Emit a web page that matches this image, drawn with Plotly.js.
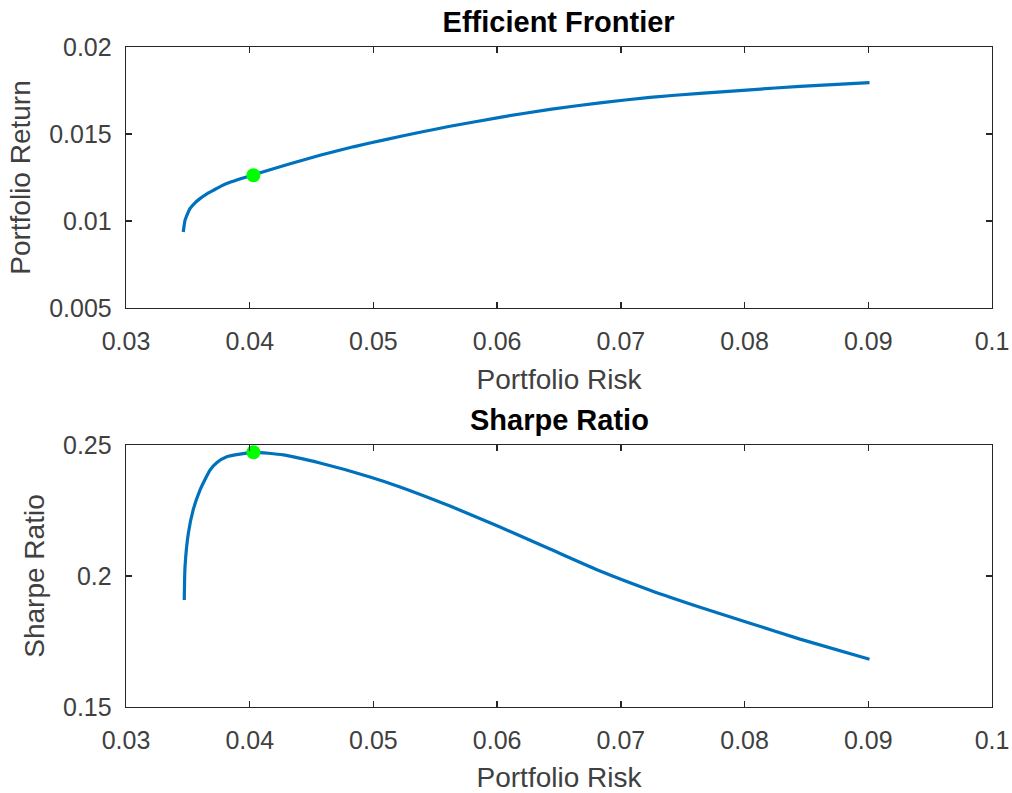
<!DOCTYPE html>
<html>
<head>
<meta charset="utf-8">
<script src="https://cdn.plot.ly/plotly-3.0.1.min.js"></script>
<style>
  html, body { margin: 0; padding: 0; background: #fff; }
  #chart { width: 1012px; height: 793px; }
</style>
</head>
<body>
<div id="chart"></div>
<script>
// ---- Data ----
const frontierRisk = [0.03463, 0.03469, 0.03477, 0.03497, 0.03517, 0.03558, 0.03598, 0.03651, 0.03706, 0.03772,
                      0.03841, 0.04029, 0.04299, 0.04568, 0.04837, 0.05107, 0.05377, 0.05619, 0.06023, 0.06427,
                      0.06832, 0.07236, 0.0764, 0.08044, 0.08448, 0.0901];
const frontierReturn = [0.009368, 0.009695, 0.010040, 0.010414, 0.010713, 0.011046, 0.011287, 0.011546, 0.011764, 0.012023,
                        0.012224, 0.012655, 0.013230, 0.013776, 0.014264, 0.014695, 0.015098, 0.015443, 0.015960, 0.016420,
                        0.016793, 0.017109, 0.017339, 0.017540, 0.017741, 0.017954];
const sharpeRisk = [0.03471, 0.03477, 0.03504, 0.03544, 0.03598, 0.03679, 0.03733, 0.03814, 0.04035, 0.04272,
                    0.04568, 0.04972, 0.05215, 0.05619, 0.06023, 0.06427, 0.06832, 0.07236, 0.0764, 0.08044,
                    0.08448, 0.0901];
const sharpeRatio = [0.1908, 0.2035, 0.2163, 0.2254, 0.2328, 0.2404, 0.2432, 0.2455, 0.2472, 0.2462,
                     0.2431, 0.2378, 0.2340, 0.2267, 0.2187, 0.2103, 0.2019, 0.1946, 0.1881, 0.1820,
                     0.1759, 0.1682];
const optimalRisk = [0.0403];
const optimalReturn = [0.01263];
const optimalSharpe = [0.2472];

const xTickVals = [0.03, 0.04, 0.05, 0.06, 0.07, 0.08, 0.09, 0.1];
const xTickText = ['0.03', '0.04', '0.05', '0.06', '0.07', '0.08', '0.09', '0.1'];
const y1TickVals = [0.005, 0.01, 0.015, 0.02];
const y1TickText = ['0.005', '0.01', '0.015', '0.02'];
const y2TickVals = [0.15, 0.2, 0.25];
const y2TickText = ['0.15', '0.2', '0.25'];

const titles = { top: 'Efficient Frontier', bottom: 'Sharpe Ratio' };
const labels = { x: 'Portfolio Risk', y1: 'Portfolio Return', y2: 'Sharpe Ratio' };

// ---- Styling ----
const FONT = '"Liberation Sans", Arial, Helvetica, sans-serif';
const axisColor = '#262626';
const tickFont = { family: FONT, size: 25, color: '#404040' };
const labelFont = { family: FONT, size: 28, color: '#404040' };
const titleFont = { family: FONT, size: 29, color: '#000' };
const lineColor = '#0072BD';
const dotColor = '#00FF00';

function xAxis(anchor) {
  return {
    anchor: anchor, domain: [0, 1], range: [0.03, 0.1],
    tickmode: 'array', tickvals: xTickVals, ticktext: xTickText,
    ticks: 'inside', ticklen: 6, tickwidth: 1.3, tickcolor: axisColor,
    showline: true, linecolor: axisColor, linewidth: 1.3, mirror: 'ticks',
    showgrid: false, zeroline: false, tickfont: tickFont,
    ticklabelstandoff: 11,
    title: { text: labels.x, font: labelFont, standoff: 15 }
  };
}
function yAxis(anchor, domain, range, tv, tt, title) {
  return {
    anchor: anchor, domain: domain, range: range,
    tickmode: 'array', tickvals: tv, ticktext: tt,
    ticks: 'inside', ticklen: 6, tickwidth: 1.3, tickcolor: axisColor,
    showline: true, linecolor: axisColor, linewidth: 1.3, mirror: 'ticks',
    showgrid: false, zeroline: false, tickfont: tickFont,
    ticklabelstandoff: 8,
    title: { text: title, font: labelFont, standoff: 10 }
  };
}

const traces = [
  { x: frontierRisk, y: frontierReturn, xaxis: 'x', yaxis: 'y', type: 'scatter', mode: 'lines',
    line: { color: lineColor, width: 3.2, shape: 'spline', smoothing: 0.5 } },
  { x: optimalRisk, y: optimalReturn, xaxis: 'x', yaxis: 'y', type: 'scatter', mode: 'markers',
    marker: { color: dotColor, size: 14 } },
  { x: sharpeRisk, y: sharpeRatio, xaxis: 'x2', yaxis: 'y2', type: 'scatter', mode: 'lines',
    line: { color: lineColor, width: 3.2, shape: 'spline', smoothing: 0.5 } },
  { x: optimalRisk, y: optimalSharpe, xaxis: 'x2', yaxis: 'y2', type: 'scatter', mode: 'markers',
    marker: { color: dotColor, size: 14 } }
];

const layout = {
  width: 1012, height: 793,
  paper_bgcolor: '#ffffff', plot_bgcolor: '#ffffff',
  showlegend: false,
  margin: { l: 126, r: 20, t: 47, b: 86, autoexpand: false },
  font: { family: FONT },
  title: { text: '<b>' + titles.top + '</b>', font: titleFont,
           x: 0.552, xanchor: 'center', y: 0.972, yanchor: 'middle' },
  xaxis: xAxis('y'),
  yaxis: yAxis('x', [0.6045, 1], [0.005, 0.02], y1TickVals, y1TickText, labels.y1),
  xaxis2: xAxis('y2'),
  yaxis2: yAxis('x2', [0, 0.397], [0.15, 0.25], y2TickVals, y2TickText, labels.y2),
  annotations: [
    { text: '<b>' + titles.bottom + '</b>', xref: 'paper', yref: 'paper', x: 0.5, y: 0.4348,
      xanchor: 'center', yanchor: 'middle', showarrow: false, font: titleFont }
  ]
};

Plotly.newPlot('chart', traces, layout, { displayModeBar: false, staticPlot: true });
</script>
</body>
</html>
